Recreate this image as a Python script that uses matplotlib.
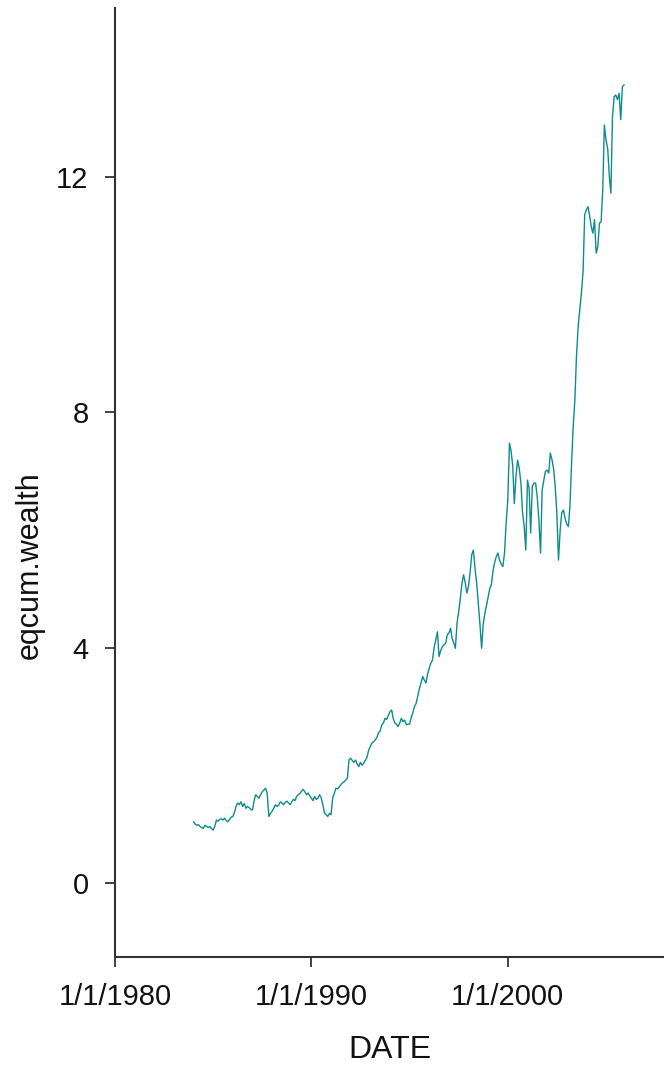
import matplotlib
matplotlib.use("Agg")
import matplotlib.pyplot as plt
import pandas as pd
import datetime as dt

plt.rcParams['font.family'] = ['Liberation Sans', 'DejaVu Sans']

# monthly cumulative wealth, Jan 1984 - Dec 2005
w1984 = [1.04, 1.00, 0.98, 0.99, 0.96, 0.94, 0.93, 0.98, 0.96, 0.94, 0.96, 0.92]
w1985 = [0.90, 0.97, 1.07, 1.05, 1.08, 1.09, 1.07, 1.10, 1.06, 1.04, 1.08, 1.12]
w1986 = [1.13, 1.20, 1.30, 1.36, 1.33, 1.38, 1.30, 1.35, 1.27, 1.30, 1.28, 1.25]
w1987 = [1.24, 1.40, 1.50, 1.47, 1.44, 1.50, 1.55, 1.58, 1.61, 1.53, 1.13, 1.18]
w1988 = [1.22, 1.27, 1.33, 1.30, 1.32, 1.38, 1.36, 1.33, 1.37, 1.39, 1.36, 1.33]
w1989 = [1.38, 1.42, 1.40, 1.47, 1.50, 1.52, 1.56, 1.59, 1.55, 1.50, 1.53, 1.48]
w1990 = [1.44, 1.40, 1.47, 1.42, 1.44, 1.50, 1.45, 1.33, 1.19, 1.16, 1.13, 1.18]
w1991 = [1.16, 1.45, 1.52, 1.61, 1.60, 1.63, 1.67, 1.70, 1.72, 1.75, 1.78, 2.09]
w1992 = [2.12, 2.08, 2.05, 2.09, 2.02, 1.98, 2.05, 2.00, 2.04, 2.09, 2.14, 2.26]
w1993 = [2.32, 2.38, 2.40, 2.43, 2.47, 2.55, 2.58, 2.69, 2.72, 2.80, 2.78, 2.85]
w1994 = [2.91, 2.94, 2.80, 2.72, 2.70, 2.66, 2.72, 2.80, 2.74, 2.77, 2.69, 2.70]
w1995 = [2.70, 2.82, 2.89, 3.00, 3.05, 3.18, 3.30, 3.40, 3.51, 3.45, 3.40, 3.55]
w1996 = [3.65, 3.74, 3.79, 4.00, 4.13, 4.27, 3.85, 3.95, 4.02, 4.05, 4.07, 4.22]
w1997 = [4.25, 4.33, 4.16, 4.08, 3.99, 4.42, 4.61, 4.84, 5.10, 5.24, 5.10, 4.93]
w1998 = [5.05, 5.30, 5.58, 5.66, 5.35, 5.10, 4.75, 4.40, 3.99, 4.40, 4.59, 4.72]
w1999 = [4.87, 5.01, 5.07, 5.30, 5.45, 5.55, 5.61, 5.49, 5.42, 5.38, 5.61, 6.12]
w2000 = [6.51, 7.48, 7.35, 7.10, 6.45, 6.91, 7.19, 7.05, 6.80, 6.30, 6.06, 5.66]
w2001 = [6.85, 6.70, 5.95, 6.75, 6.80, 6.80, 6.57, 6.17, 5.61, 6.68, 6.85, 7.00]
w2002 = [7.02, 6.97, 7.31, 7.20, 7.05, 6.74, 6.29, 5.49, 6.00, 6.30, 6.34, 6.20]
w2003 = [6.10, 6.06, 6.40, 7.14, 7.76, 8.21, 8.95, 9.46, 9.75, 10.03, 10.40, 11.36]
w2004 = [11.45, 11.50, 11.35, 11.16, 11.05, 11.28, 10.71, 10.82, 11.22, 11.24, 11.79, 12.89]
w2005 = [12.63, 12.49, 12.04, 11.73, 13.03, 13.37, 13.40, 13.32, 13.43, 12.98, 13.54, 13.57]

eqcum_wealth = (w1984 + w1985 + w1986 + w1987 + w1988 + w1989 + w1990 + w1991 +
                w1992 + w1993 + w1994 + w1995 + w1996 + w1997 + w1998 + w1999 +
                w2000 + w2001 + w2002 + w2003 + w2004 + w2005)
dates = pd.date_range('1984-01-01', periods=len(eqcum_wealth), freq='MS')

x_tick_dates = [dt.datetime(1980, 1, 1), dt.datetime(1990, 1, 1), dt.datetime(2000, 1, 1)]
x_tick_labels = ['1/1/1980', '1/1/1990', '1/1/2000']
y_ticks = [0, 4, 8, 12]

fig = plt.figure(figsize=(6.64, 10.70), dpi=100)
ax = fig.add_axes([0.1732, 0.1056, 0.8268, 0.887])

ax.plot(dates, eqcum_wealth, color='#0E8C8C', lw=1.0)

ax.set_xlim(dt.datetime(1980, 1, 1), dt.datetime(2007, 12, 15))
ax.set_ylim(-1.26, 14.88)

ax.set_xticks(x_tick_dates)
ax.set_xticklabels(x_tick_labels)
ax.set_yticks(y_ticks)
ax.set_yticklabels([str(v) for v in y_ticks])

for side in ['top', 'right']:
    ax.spines[side].set_visible(False)
for side in ['left', 'bottom']:
    ax.spines[side].set_color('#333333')
    ax.spines[side].set_linewidth(1.5)

ax.tick_params(axis='both', direction='out', length=7, width=1.3, color='#333333',
               labelsize=21, labelcolor='#111111')
ax.tick_params(axis='x', pad=12)
ax.tick_params(axis='y', pad=12)

ax.set_xlabel('DATE', fontsize=23, color='#111111')
ax.set_ylabel('eqcum.wealth', fontsize=22, color='#111111')
ax.xaxis.set_label_coords(0.5, -0.098)
ax.yaxis.set_label_coords(-0.155, 0.413)
ax.xaxis.label.set_va('center')
ax.yaxis.label.set_va('center')

fig.savefig('out.png', dpi=100)
